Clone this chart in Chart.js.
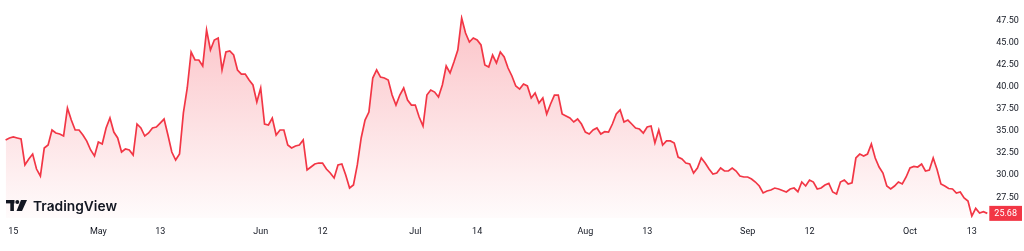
<!DOCTYPE html>
<html>
<head>
<meta charset="utf-8">
<script src="https://cdn.jsdelivr.net/npm/chart.js@4.4.1/dist/chart.umd.min.js"></script>
<style>
  html, body { margin: 0; padding: 0; background: #ffffff; }
  #wrap { position: relative; width: 1024px; height: 251px; }
</style>
</head>
<body>
<div id="wrap"><canvas id="c"></canvas></div>
<script>
// ---- Data ----
const tradingDays = [
  "2025-04-14","2025-04-15","2025-04-16","2025-04-17","2025-04-21","2025-04-22","2025-04-23","2025-04-24","2025-04-25","2025-04-28","2025-04-29","2025-04-30",
  "2025-05-01","2025-05-02","2025-05-05","2025-05-06","2025-05-07","2025-05-08","2025-05-09","2025-05-12","2025-05-13","2025-05-14","2025-05-15","2025-05-16","2025-05-19","2025-05-20","2025-05-21","2025-05-22","2025-05-23","2025-05-27","2025-05-28","2025-05-29","2025-05-30",
  "2025-06-02","2025-06-03","2025-06-04","2025-06-05","2025-06-06","2025-06-09","2025-06-10","2025-06-11","2025-06-12","2025-06-13","2025-06-16","2025-06-17","2025-06-18","2025-06-20","2025-06-23","2025-06-24","2025-06-25","2025-06-26","2025-06-27","2025-06-30",
  "2025-07-01","2025-07-02","2025-07-03","2025-07-07","2025-07-08","2025-07-09","2025-07-10","2025-07-11","2025-07-14","2025-07-15","2025-07-16","2025-07-17","2025-07-18","2025-07-21","2025-07-22","2025-07-23","2025-07-24","2025-07-25","2025-07-28","2025-07-29","2025-07-30","2025-07-31",
  "2025-08-01","2025-08-04","2025-08-05","2025-08-06","2025-08-07","2025-08-08","2025-08-11","2025-08-12","2025-08-13","2025-08-14","2025-08-15","2025-08-18","2025-08-19","2025-08-20","2025-08-21","2025-08-22","2025-08-25","2025-08-26","2025-08-27","2025-08-28","2025-08-29",
  "2025-09-02","2025-09-03","2025-09-04","2025-09-05","2025-09-08","2025-09-09","2025-09-10","2025-09-11","2025-09-12","2025-09-15","2025-09-16","2025-09-17","2025-09-18","2025-09-19","2025-09-22","2025-09-23","2025-09-24","2025-09-25","2025-09-26","2025-09-29","2025-09-30",
  "2025-10-01","2025-10-02","2025-10-03","2025-10-06","2025-10-07","2025-10-08","2025-10-09","2025-10-10","2025-10-13","2025-10-14","2025-10-15"
];
const sessions = ["AM", "PM"];

const prices = [
  33.99, 34.22, 34.33, 34.22, 34.10, 31.16, 31.84, 32.40, 30.70, 29.91,
  33.08, 33.42, 35.12, 34.78, 34.67, 34.44, 37.61, 36.25, 35.12, 35.12,
  34.55, 33.87, 32.86, 32.18, 33.76, 33.54, 35.35, 36.48, 34.89, 34.22,
  32.63, 32.97, 32.86, 32.29, 35.80, 35.35, 34.44, 34.78, 35.35, 35.46,
  35.91, 36.36, 34.55, 32.63, 31.72, 32.40, 37.05, 39.88, 43.95, 43.05,
  43.05, 42.37, 46.45, 44.18, 45.31, 45.54, 41.92, 43.95, 44.07, 43.62,
  41.92, 41.46, 41.46, 40.78, 40.22, 38.29, 39.88, 35.80, 35.69, 36.48,
  34.55, 35.12, 35.12, 33.42, 33.08, 33.31, 33.42, 33.99, 30.59, 30.93,
  31.27, 31.38, 31.38, 30.70, 30.25, 29.69, 31.16, 31.27, 30.03, 28.55,
  28.89, 31.16, 34.22, 36.25, 37.16, 41.01, 41.92, 41.12, 41.01, 40.78,
  39.08, 37.95, 39.08, 39.88, 38.52, 37.95, 37.95, 36.59, 35.57, 39.08,
  39.65, 39.42, 38.86, 40.22, 42.37, 41.58, 42.82, 44.18, 47.80, 46.11,
  45.09, 45.54, 45.31, 44.75, 42.48, 42.26, 43.61, 42.71, 43.95, 43.39,
  42.14, 41.24, 40.11, 39.76, 40.33, 40.11, 38.75, 39.31, 38.18, 38.75,
  36.93, 38.07, 39.08, 39.08, 36.93, 36.70, 36.48, 36.03, 36.37, 35.80,
  34.89, 34.67, 35.12, 35.35, 34.67, 34.93, 34.89, 35.80, 36.93, 37.39,
  36.03, 36.25, 35.80, 35.35, 35.23, 34.78, 35.46, 35.57, 33.65, 35.12,
  33.42, 33.88, 33.88, 33.65, 32.06, 31.84, 31.38, 31.27, 30.25, 30.82,
  31.95, 31.38, 30.70, 30.14, 30.25, 30.82, 30.48, 30.48, 30.82, 30.48,
  29.91, 29.80, 29.80, 29.57, 29.23, 28.78, 27.99, 28.21, 28.33, 28.55,
  28.44, 28.27, 28.10, 28.44, 28.55, 28.13, 29.23, 28.78, 29.46, 29.23,
  28.44, 28.55, 28.89, 29.08, 28.10, 27.87, 29.23, 29.46, 29.01, 29.15,
  31.95, 32.40, 32.18, 32.40, 33.54, 31.95, 30.93, 30.25, 28.78, 28.44,
  28.78, 29.23, 29.01, 29.80, 30.82, 30.99, 30.93, 31.27, 30.48, 30.59,
  31.95, 30.64, 29.01, 28.78, 28.50, 28.44, 27.99, 28.10, 27.42, 27.08,
  25.38, 26.25, 25.72, 25.87, 25.68
];

const tickDates = ["2025-04-15","2025-05-01","2025-05-13","2025-06-02","2025-06-12","2025-07-01","2025-07-14","2025-08-01","2025-08-13","2025-09-02","2025-09-12","2025-10-01","2025-10-13"];
const tickTexts = ["15","May","13","Jun","12","Jul","14","Aug","13","Sep","12","Oct","13"];
const priceTicks = [27.5, 30, 32.5, 35, 37.5, 40, 42.5, 45, 47.5];
const lastPrice = 25.68;

// ---- Build ----
const categories = tradingDays.flatMap(d => sessions.map(s => d + " " + s)).slice(0, prices.length);

const RED = "#F23645";
const TEXT = "#131722";
const FONT = "Roboto, 'Liberation Sans', sans-serif";

// price-scale placement: top tick (47.50) sits at 20.7px, bottom tick (27.50) at 197.3px
const TOP_TICK_PX = 20.7, BOT_TICK_PX = 197.3;

const scaleFitPlugin = {
  id: "scaleFit",
  afterLayout(chart) {
    const y = chart.scales.y;
    const hi = priceTicks[priceTicks.length - 1], lo = priceTicks[0];
    const perPx = (hi - lo) / (BOT_TICK_PX - TOP_TICK_PX);
    y.max = hi + (TOP_TICK_PX - y.top) * perPx;
    y.min = hi - (y.bottom - TOP_TICK_PX) * perPx;
    y.configure();
  }
};

const brandPlugin = {
  id: "brand",
  afterDraw(chart) {
    const ctx = chart.ctx;
    ctx.save();
    // logo
    ctx.fillStyle = TEXT;
    ctx.fillRect(6, 200, 8.5, 3.4);
    ctx.fillRect(10.3, 200, 3.6, 11);
    ctx.beginPath();
    ctx.arc(17.3, 202, 2, 0, Math.PI * 2);
    ctx.fill();
    ctx.beginPath();
    ctx.moveTo(21, 200);
    ctx.lineTo(27, 200);
    ctx.lineTo(22, 211);
    ctx.lineTo(16.5, 211);
    ctx.closePath();
    ctx.fill();
    // wordmark
    let size = 14;
    ctx.font = "600 " + size + "px Inter, Roboto, sans-serif";
    const w = ctx.measureText("TradingView").width;
    size = size * 84 / w;
    ctx.font = "600 " + size.toFixed(2) + "px Inter, Roboto, sans-serif";
    ctx.textBaseline = "alphabetic";
    ctx.textAlign = "left";
    ctx.fillText("TradingView", 33, 210.5);

    // last price label
    const ys = chart.scales.y;
    const py = ys.getPixelForValue(lastPrice);
    const x0 = chart.chartArea.right + 2;
    const x1 = chart.width - 2;
    ctx.fillStyle = RED;
    ctx.fillRect(x0, py - 7.5, x1 - x0, 15);
    ctx.fillStyle = "#ffffff";
    ctx.font = "9px " + FONT;
    ctx.textAlign = "center";
    ctx.textBaseline = "middle";
    ctx.fillText(lastPrice.toFixed(2), (x0 + x1) / 2, py + 0.5);
    ctx.restore();
  }
};

const bgPlugin = {
  id: "bg",
  beforeDraw(chart) {
    const ctx = chart.ctx;
    ctx.save();
    ctx.fillStyle = "#ffffff";
    ctx.fillRect(0, 0, chart.width, chart.height);
    ctx.restore();
  }
};

new Chart(document.getElementById("c"), {
  type: "line",
  data: {
    labels: categories,
    datasets: [{
      data: prices,
      borderColor: RED,
      borderWidth: 1.7,
      pointRadius: 0,
      tension: 0,
      fill: "start",
      backgroundColor(context) {
        const chart = context.chart;
        const area = chart.chartArea;
        if (!area) return "rgba(242,54,69,0.15)";
        const g = chart.ctx.createLinearGradient(0, area.top, 0, area.bottom);
        g.addColorStop(0, "rgba(242,54,69,0.30)");
        g.addColorStop(1, "rgba(242,54,69,0.02)");
        return g;
      }
    }]
  },
  options: {
    responsive: true,
    maintainAspectRatio: false,
    animation: false,
    devicePixelRatio: 1,
    layout: { padding: { left: 5.6, right: 0, top: 0, bottom: 0 } },
    plugins: { legend: { display: false }, tooltip: { enabled: false } },
    scales: {
      x: {
        type: "category",
        offset: false,
        grid: { display: false, drawTicks: false },
        border: { display: false },
        afterFit(scale) { scale.height = 33; },
        ticks: {
          autoSkip: false,
          maxRotation: 0,
          minRotation: 0,
          padding: 8,
          color: TEXT,
          font: { size: 9, family: FONT },
          callback(value) {
            const lab = this.getLabelForValue(value);
            const [d, s] = lab.split(" ");
            if (s !== "AM") return null;
            const k = tickDates.indexOf(d);
            return k >= 0 ? tickTexts[k] : null;
          }
        }
      },
      y: {
        position: "right",
        min: 25.155,
        max: 49.844,
        grid: { display: false, drawTicks: false },
        border: { display: false },
        afterFit(scale) { scale.width = 36.7; },
        afterBuildTicks(scale) { scale.ticks = priceTicks.map(v => ({ value: v })); },
        ticks: {
          padding: 9,
          color: TEXT,
          font: { size: 9, family: FONT },
          callback(v) { return Number(v).toFixed(2); }
        }
      }
    }
  },
  plugins: [bgPlugin, scaleFitPlugin, brandPlugin]
});
</script>
</body>
</html>
